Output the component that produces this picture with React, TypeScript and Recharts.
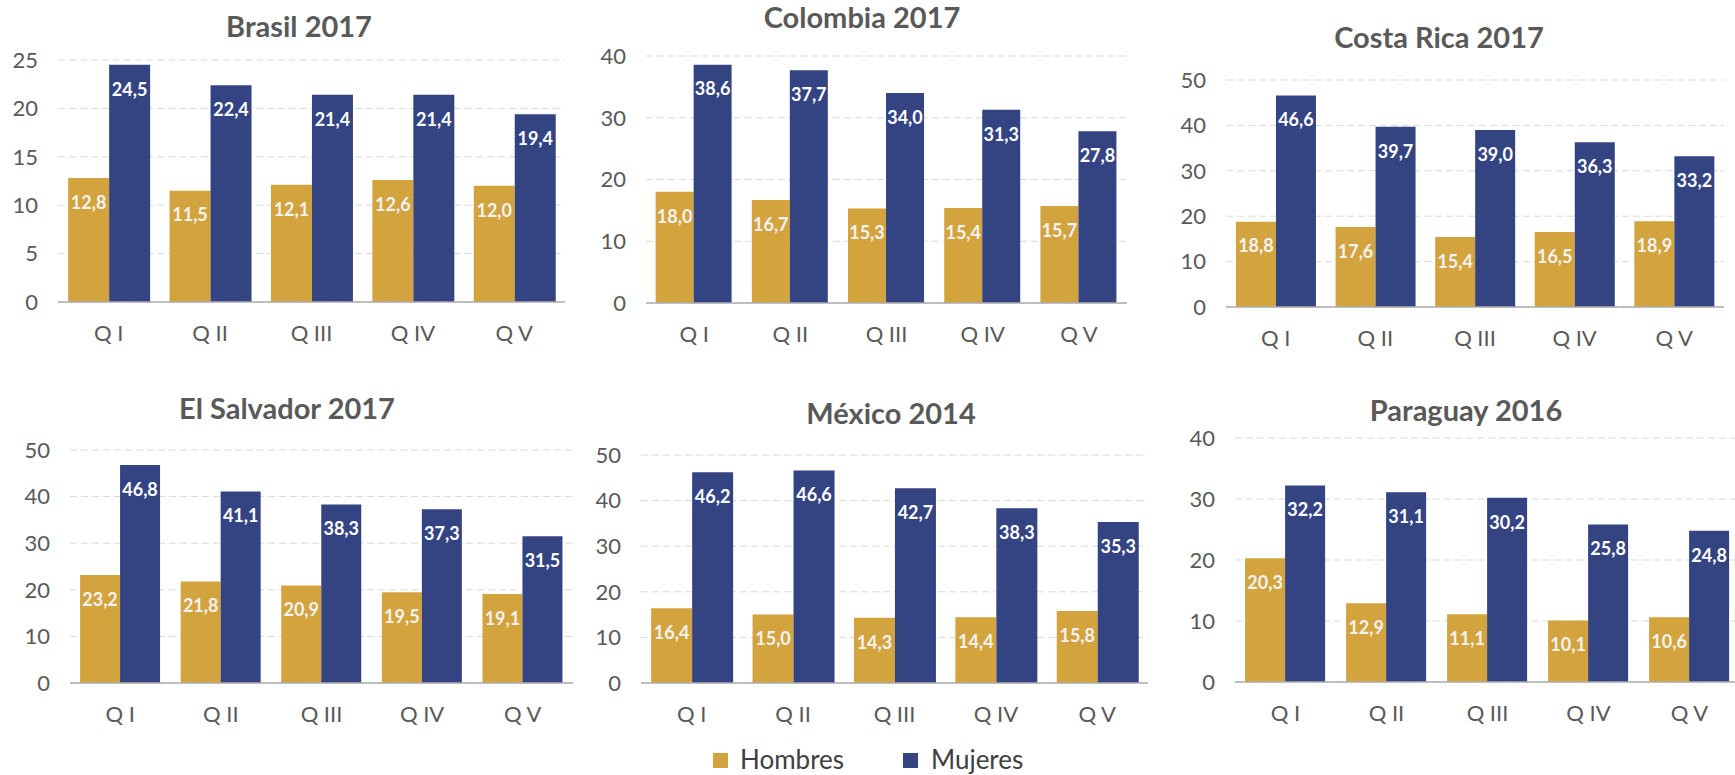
import React from "react"
import { BarChart, Bar, XAxis, YAxis, CartesianGrid, LabelList } from "recharts"

const categories = ["Q I", "Q II", "Q III", "Q IV", "Q V"]

const brasilH = [12.8, 11.5, 12.1, 12.6, 12.0]
const brasilM = [24.5, 22.4, 21.4, 21.4, 19.4]
const colombiaH = [18.0, 16.7, 15.3, 15.4, 15.7]
const colombiaM = [38.6, 37.7, 34.0, 31.3, 27.8]
const costaRicaH = [18.8, 17.6, 15.4, 16.5, 18.9]
const costaRicaM = [46.6, 39.7, 39.0, 36.3, 33.2]
const salvadorH = [23.2, 21.8, 20.9, 19.5, 19.1]
const salvadorM = [46.8, 41.1, 38.3, 37.3, 31.5]
const mexicoH = [16.4, 15.0, 14.3, 14.4, 15.8]
const mexicoM = [46.2, 46.6, 42.7, 38.3, 35.3]
const paraguayH = [20.3, 12.9, 11.1, 10.1, 10.6]
const paraguayM = [32.2, 31.1, 30.2, 25.8, 24.8]

const ticks25 = [0, 5, 10, 15, 20, 25]
const ticks40 = [0, 10, 20, 30, 40]
const ticks50 = [0, 10, 20, 30, 40, 50]

const GOLD = "#D3A43D"
const NAVY = "#344482"
const GRAY = "#595959"
const FONT = "Lato, 'Open Sans', sans-serif"

const fmt = (v: any) => Number(v).toFixed(1).replace(".", ",")

const build = (h: number[], m: number[]) =>
  categories.map((name, i) => ({ name, h: h[i], m: m[i] }))

interface PanelProps {
  title: string
  h: number[]
  m: number[]
  ticks: number[]
  plotL: number
  plotR: number
  plotT: number
  plotB: number
  titleX: number
  titleY: number
}

function Panel({ title, h, m, ticks, plotL, plotR, plotT, plotB, titleX, titleY }: PanelProps) {
  const yW = 60
  const top = 15
  const xH = 50
  const right = 5
  const width = plotR - plotL + yW + right
  const height = plotB - plotT + top + xH
  const data = build(h, m)
  return (
    <>
      <div
        style={{
          position: "absolute",
          left: titleX - 250,
          width: 500,
          top: titleY - 18,
          lineHeight: "34px",
          fontSize: 29,
          fontWeight: 700,
          color: GRAY,
          fontFamily: FONT,
          textAlign: "center",
        }}
      >
        {title}
      </div>
      <div style={{ position: "absolute", left: plotL - yW, top: plotT - top }}>
        <BarChart
          width={width}
          height={height}
          data={data}
          margin={{ top, right, left: 0, bottom: 0 }}
          barCategoryGap="10%"
          barGap={0}
        >
          <CartesianGrid vertical={false} stroke="#D9D9D9" strokeDasharray="7 4" />
          <XAxis
            dataKey="name"
            height={xH}
            tickLine={false}
            tickSize={0}
            tickMargin={23}
            stroke="#ADADAD"
            strokeWidth={1.5}
            tick={{ fill: GRAY, fontSize: 22, fontFamily: FONT }}
          />
          <YAxis
            width={yW}
            domain={[0, ticks[ticks.length - 1]]}
            ticks={ticks}
            axisLine={false}
            tickLine={false}
            tickSize={0}
            tickMargin={20}
            tick={{ fill: GRAY, fontSize: 22, fontFamily: FONT }}
          />
          <Bar dataKey="h" fill={GOLD} isAnimationActive={false}>
            <LabelList
              dataKey="h"
              position="insideTop"
              offset={18}
              formatter={fmt}
              fill="#F2F2F2"
              fontSize={18}
              fontWeight={700}
              fontFamily={FONT}
            />
          </Bar>
          <Bar dataKey="m" fill={NAVY} isAnimationActive={false}>
            <LabelList
              dataKey="m"
              position="insideTop"
              offset={18}
              formatter={fmt}
              fill="#FFFFFF"
              fontSize={18}
              fontWeight={700}
              fontFamily={FONT}
            />
          </Bar>
        </BarChart>
      </div>
    </>
  )
}

export default function App() {
  return (
    <div
      style={{
        position: "absolute",
        left: 0,
        top: 0,
        width: 1735,
        height: 775,
        overflow: "hidden",
        background: "#FFFFFF",
        fontFamily: FONT,
      }}
    >
      <Panel title="Brasil 2017" h={brasilH} m={brasilM} ticks={ticks25}
        plotL={58} plotR={565} plotT={60} plotB={302} titleX={299} titleY={27} />
      <Panel title="Colombia 2017" h={colombiaH} m={colombiaM} ticks={ticks40}
        plotL={646} plotR={1127} plotT={56} plotB={303} titleX={862} titleY={18} />
      <Panel title="Costa Rica 2017" h={costaRicaH} m={costaRicaM} ticks={ticks50}
        plotL={1226} plotR={1724} plotT={80} plotB={307} titleX={1439} titleY={38} />
      <Panel title="El Salvador 2017" h={salvadorH} m={salvadorM} ticks={ticks50}
        plotL={70} plotR={573} plotT={450} plotB={683} titleX={287} titleY={409} />
      <Panel title="México 2014" h={mexicoH} m={mexicoM} ticks={ticks50}
        plotL={641} plotR={1148} plotT={455} plotB={683} titleX={891} titleY={414} />
      <Panel title="Paraguay 2016" h={paraguayH} m={paraguayM} ticks={ticks40}
        plotL={1235} plotR={1740} plotT={438} plotB={682} titleX={1466} titleY={411} />

      {/* legend */}
      <div style={{ position: "absolute", left: 713, top: 753, width: 15, height: 15, background: GOLD }} />
      <div style={{ position: "absolute", left: 740, top: 744, fontSize: 26, lineHeight: "30px", color: "#404040" }}>
        Hombres
      </div>
      <div style={{ position: "absolute", left: 903, top: 753, width: 15, height: 15, background: NAVY }} />
      <div style={{ position: "absolute", left: 931, top: 744, fontSize: 26, lineHeight: "30px", color: "#404040" }}>
        Mujeres
      </div>
    </div>
  )
}
